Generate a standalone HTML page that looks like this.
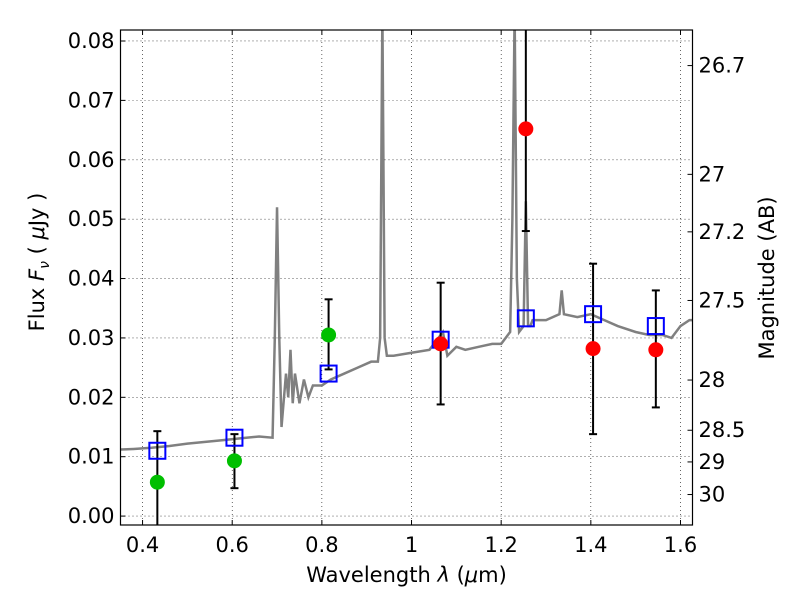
<!DOCTYPE html>
<html><head><meta charset="utf-8"><style>
body{margin:0;background:#fff}
svg text{font-family:"DejaVu Sans","Liberation Sans",sans-serif;fill:#000}
</style></head><body>
<svg id="c" width="800" height="600"></svg>
<script>
const specWave=[0.35,0.38,0.42,0.46,0.50,0.54,0.58,0.62,0.66,0.69,0.695,0.70,0.705,0.71,0.72,0.725,0.73,0.735,0.74,0.75,0.76,0.77,0.78,0.80,0.82,0.85,0.88,0.91,0.925,0.93,0.935,0.94,0.945,0.96,1.00,1.04,1.07,1.08,1.10,1.12,1.15,1.18,1.20,1.22,1.225,1.23,1.235,1.24,1.25,1.255,1.26,1.265,1.27,1.30,1.33,1.335,1.34,1.37,1.40,1.43,1.46,1.50,1.53,1.56,1.58,1.60,1.62,1.63];
const specFlux=[0.0112,0.0113,0.0115,0.0118,0.0122,0.0125,0.0128,0.0131,0.0134,0.0132,0.030,0.052,0.030,0.015,0.024,0.020,0.028,0.019,0.024,0.019,0.023,0.020,0.022,0.022,0.023,0.024,0.025,0.026,0.026,0.030,0.085,0.030,0.027,0.027,0.0275,0.028,0.031,0.027,0.0285,0.028,0.0285,0.029,0.029,0.031,0.05,0.085,0.04,0.031,0.032,0.053,0.032,0.032,0.033,0.033,0.034,0.038,0.034,0.0335,0.034,0.033,0.032,0.031,0.0305,0.0305,0.030,0.032,0.033,0.033];
const bandWave=[0.433,0.605,0.815,1.065,1.255,1.405,1.545];
const modelFlux=[0.0110,0.0132,0.0240,0.0297,0.0333,0.0340,0.0320];
const greenWave=[0.433,0.605,0.815];
const greenFlux=[0.0057,0.0093,0.0305];
const greenHi=[0.0143,0.0138,0.0365];
const greenLo=[-0.01,0.0047,0.0247];
const redWave=[1.065,1.255,1.405,1.545];
const redFlux=[0.0290,0.0652,0.0282,0.0280];
const redHi=[0.0393,0.10,0.0425,0.0380];
const redLo=[0.0188,0.0480,0.0138,0.0183];
const xTicks=[0.4,0.6,0.8,1.0,1.2,1.4,1.6];
const xTickLabels=["0.4","0.6","0.8","1","1.2","1.4","1.6"];
const yTicks=[0,0.01,0.02,0.03,0.04,0.05,0.06,0.07,0.08];
const yTickLabels=["0.00","0.01","0.02","0.03","0.04","0.05","0.06","0.07","0.08"];
const magTicks=[26.7,27,27.2,27.5,28,28.5,29,30];
const magLabels=["26.7","27","27.2","27.5","28","28.5","29","30"];

const L=120.5,R=692.5,T=30,B=525,x0=0.3508,x1=1.6268,y0=-0.0015,y1=0.08185;
const sx=v=>L+(v-x0)/(x1-x0)*(R-L);
const sy=v=>B-(v-y0)/(y1-y0)*(B-T);
const svg=document.getElementById('c');const NS='http://www.w3.org/2000/svg';
function mk(t,a,p){const e=document.createElementNS(NS,t);for(const k in a)e.setAttribute(k,a[k]);(p||svg).appendChild(e);return e;}
const defs=mk('defs',{});const cp=mk('clipPath',{id:'clip'},defs);mk('rect',{x:L,y:T,width:R-L,height:B-T},cp);
const plot=mk('g',{'clip-path':'url(#clip)'});


xTicks.forEach((v,i)=>{const g=mk('line',{x1:sx(v),x2:sx(v),y1:T,y2:B,stroke:'#000','stroke-width':0.6,'stroke-dasharray':'1,3'},plot);

const tk=mk('line',{x1:sx(v),x2:sx(v),y1:B,y2:B-5,stroke:'#000'});
const tk2=mk('line',{x1:sx(v),x2:sx(v),y1:T,y2:T+5,stroke:'#000'});
const t=mk('text',{x:sx(v),y:B+27,'text-anchor':'middle','font-size':21});t.textContent=xTickLabels[i];
});
yTicks.forEach((v,i)=>{const g=mk('line',{x1:L,x2:R,y1:sy(v),y2:sy(v),stroke:'#000','stroke-width':0.6,'stroke-dasharray':'1,3'},plot);

const tk=mk('line',{x1:L,x2:L+5,y1:sy(v),y2:sy(v),stroke:'#000'});
const t=mk('text',{x:L-6,y:sy(v)+7,'text-anchor':'end','font-size':21});t.textContent=yTickLabels[i];
});
magTicks.forEach((m,i)=>{const f=Math.pow(10,(23.9-m)/2.5);const y=sy(f);
const tk=mk('line',{x1:R-5,x2:R,y1:y,y2:y,stroke:'#000'});
const t=mk('text',{x:R+6,y:y+7,'font-size':21});t.textContent=magLabels[i];
});
const spec=mk('polyline',{points:specWave.map((w,i)=>sx(w)+','+sy(specFlux[i])).join(' '),fill:'none',stroke:'#808080','stroke-width':2.5},plot);

function eb(w,hi,lo,name){const g=mk('g',{},plot);
mk('line',{x1:sx(w),x2:sx(w),y1:sy(hi),y2:sy(lo),stroke:'#000','stroke-width':2},g);
[hi,lo].forEach(v=>mk('line',{x1:sx(w)-4,x2:sx(w)+4,y1:sy(v),y2:sy(v),stroke:'#000','stroke-width':2},g));}
greenWave.forEach((w,i)=>eb(w,greenHi[i],greenLo[i],'errorbar-green'));
redWave.forEach((w,i)=>eb(w,redHi[i],redLo[i],'errorbar-red'));
bandWave.forEach((w,i)=>{const r=mk('rect',{x:sx(w)-8,y:sy(modelFlux[i])-8,width:16,height:16,fill:'none',stroke:'#0000ff','stroke-width':2},plot);
});
greenWave.forEach((w,i)=>{const c=mk('circle',{cx:sx(w),cy:sy(greenFlux[i]),r:7.5,fill:'#00bf00'},plot);
});
redWave.forEach((w,i)=>{const c=mk('circle',{cx:sx(w),cy:sy(redFlux[i]),r:7.5,fill:'#ff0000'},plot);
});
const fr=mk('rect',{x:L,y:T,width:R-L,height:B-T,fill:'none',stroke:'#000','stroke-width':1.2});

const xl=mk('text',{x:(L+R)/2,y:582,'text-anchor':'middle','font-size':21});
xl.innerHTML='Wavelength  <tspan font-style="italic">λ</tspan> (<tspan font-style="italic">μ</tspan>m)';
xl.setAttribute('xml:space','preserve');

const yl=mk('text',{x:0,y:0,'text-anchor':'middle','font-size':21,transform:'translate(44,262) rotate(-90)'});
yl.setAttribute('xml:space','preserve');
yl.innerHTML='Flux  <tspan font-style="italic">F</tspan><tspan font-style="italic" font-size="14" dy="5">ν</tspan><tspan dy="-5">  (  </tspan><tspan font-style="italic">μ</tspan>Jy )';

const ml=mk('text',{x:0,y:0,'text-anchor':'middle','font-size':21,transform:'translate(774,278) rotate(-90)'});ml.textContent='Magnitude (AB)';

</script></body></html>
